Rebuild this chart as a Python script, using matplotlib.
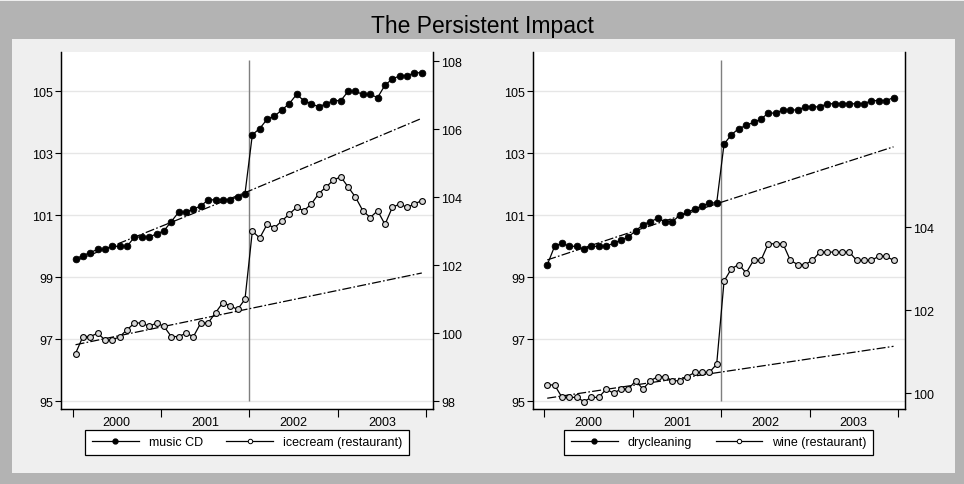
import numpy as np
import matplotlib
matplotlib.use('Agg')
import matplotlib.pyplot as plt
from matplotlib.patches import Rectangle
from matplotlib.lines import Line2D

plt.rcParams['font.family'] = ['Liberation Sans', 'DejaVu Sans']
plt.rcParams['lines.scale_dashes'] = False

# ---------------- data ----------------
years = [2000, 2001, 2002, 2003]
month_index = np.arange(48)          # Jan 2000 .. Dec 2003
break_year = 2002

music_cd = [99.6, 99.7, 99.8, 99.9, 99.9, 100.0, 100.0, 100.0, 100.3, 100.3, 100.3, 100.4,
            100.5, 100.8, 101.1, 101.1, 101.2, 101.3, 101.5, 101.5, 101.5, 101.5, 101.6, 101.7,
            103.6, 103.8, 104.1, 104.2, 104.4, 104.6, 104.9, 104.7, 104.6, 104.5, 104.6, 104.7,
            104.7, 105.0, 105.0, 104.9, 104.9, 104.8, 105.2, 105.4, 105.5, 105.5, 105.6, 105.6]
icecream = [99.4, 99.9, 99.9, 100.0, 99.8, 99.8, 99.9, 100.1, 100.3, 100.3, 100.2, 100.3,
            100.2, 99.9, 99.9, 100.0, 99.9, 100.3, 100.3, 100.6, 100.9, 100.8, 100.7, 101.0,
            103.0, 102.8, 103.2, 103.1, 103.3, 103.5, 103.7, 103.6, 103.8, 104.1, 104.3, 104.5,
            104.6, 104.3, 104.0, 103.6, 103.4, 103.6, 103.2, 103.7, 103.8, 103.7, 103.8, 103.9]
drycleaning = [99.4, 100.0, 100.1, 100.0, 100.0, 99.9, 100.0, 100.0, 100.0, 100.1, 100.2, 100.3,
               100.5, 100.7, 100.8, 100.9, 100.8, 100.8, 101.0, 101.1, 101.2, 101.3, 101.4, 101.4,
               103.3, 103.6, 103.8, 103.9, 104.0, 104.1, 104.3, 104.3, 104.4, 104.4, 104.4, 104.5,
               104.5, 104.5, 104.6, 104.6, 104.6, 104.6, 104.6, 104.6, 104.7, 104.7, 104.7, 104.8]
wine = [100.2, 100.2, 99.9, 99.9, 99.9, 99.8, 99.9, 99.9, 100.1, 100.0, 100.1, 100.1,
        100.3, 100.1, 100.3, 100.4, 100.4, 100.3, 100.3, 100.4, 100.5, 100.5, 100.5, 100.7,
        102.7, 103.0, 103.1, 102.9, 103.2, 103.2, 103.6, 103.6, 103.6, 103.2, 103.1, 103.1,
        103.2, 103.4, 103.4, 103.4, 103.4, 103.4, 103.2, 103.2, 103.2, 103.3, 103.3, 103.2]

# trend values at first month, at the break, at last month
music_trend = [99.53, 101.79, 104.13]
icecream_trend = [99.66, 100.72, 101.77]
dry_trend = [99.56, 101.42, 103.21]
wine_trend = [99.88, 100.51, 101.13]

left_ticks = [95, 97, 99, 101, 103, 105]
right_ticks_1 = [98, 100, 102, 104, 106, 108]
right_ticks_2 = [100, 102, 104]

# ---------------- figure ----------------
W, H = 964, 485
fig = plt.figure(figsize=(W / 100, H / 100), dpi=100)
fig.patch.set_facecolor('#B3B3B3')
fig.patches.append(Rectangle((12 / W, 1 - 474 / H), (955 - 12) / W, (474 - 40) / H,
                             transform=fig.transFigure, facecolor='#EFEFEF',
                             edgecolor='none', zorder=-10))
fig.patches.append(Rectangle((0, 1 - 1.5 / H), 1, 1.5 / H, transform=fig.transFigure,
                             facecolor='#EEEEEE', edgecolor='none', zorder=-10))
fig.text(0.5, 1 - 26 / H, 'The Persistent Impact', ha='center', va='center',
         fontsize=16.5, color='black')

x = 2000 + (month_index + 0.4) / 12
trend_x = [x[0], break_year, x[-1]]

trend_style = dict(color='black', lw=0.9, dashes=(6.5, 1.6, 1.2, 1.6), zorder=2)
filled = dict(color='black', lw=0.9, marker='o', ms=4.8, mfc='black', mec='black',
              mew=0.6, zorder=4)
hollow = dict(color='black', lw=0.9, marker='o', ms=4.2, mfc='#D9D9D9', mec='black',
              mew=0.8, zorder=4)


def make_panel(left_px, s1, s2, t1, t2, rlim, rticks, lab1, lab2):
    ax = fig.add_axes([left_px / W, 1 - 410 / H, 372.3 / W, (410 - 53) / H])
    ax.set_facecolor('white')
    ax.set_xlim(1999.869, 2004.08)
    ax.set_ylim(94.75, 106.27)
    ax.set_yticks(left_ticks)
    ax.yaxis.grid(True, color='#E6E6E6', lw=1.0)
    ax.set_axisbelow(True)
    ax.set_xticks([2000, 2001, 2002, 2003, 2004])
    ax.set_xticklabels([])
    ax.set_xticks([y + 0.5 for y in years], minor=True)
    ax.set_xticklabels([str(y) for y in years], minor=True)
    ax.tick_params(axis='x', which='major', length=5.5, width=0.8, direction='out')
    ax.tick_params(axis='x', which='minor', length=0, pad=5, labelsize=9)
    ax.tick_params(axis='y', length=4, width=0.8, pad=1.5, labelsize=9)
    ax.spines['top'].set_visible(False)
    for s in ['left', 'right', 'bottom']:
        ax.spines[s].set_linewidth(0.9)
        ax.spines[s].set_color('black')
    ax.vlines(break_year, 95, 106, color='#7F7F7F', lw=1.0, zorder=1)
    ax.plot(trend_x, t1, **trend_style)
    ax.plot(x, s1, **filled)

    ax2 = ax.twinx()
    ax2.set_ylim(*rlim)
    ax2.set_yticks(rticks)
    ax2.tick_params(axis='y', length=4, width=0.8, pad=1.5, labelsize=9)
    ax2.spines['top'].set_visible(False)
    for s in ['left', 'right', 'bottom']:
        ax2.spines[s].set_linewidth(0.9)
        ax2.spines[s].set_color('black')
    ax2.plot(trend_x, t2, **trend_style)
    ax2.plot(x, s2, **hollow)

    handles = [Line2D([], [], color='black', lw=0.9, marker='o', ms=3.5, mfc='black', mec='black'),
               Line2D([], [], color='black', lw=0.9, marker='o', ms=3.2, mfc='white', mec='black', mew=0.7)]
    cx = (left_px + 372.3 / 2) / W
    leg = fig.legend(handles, [lab1, lab2], loc='center', bbox_to_anchor=(cx, 1 - 443.5 / H),
                     ncol=2, numpoints=1, fontsize=9, frameon=True, fancybox=False,
                     edgecolor='black', framealpha=1, handlelength=3.7, handletextpad=0.8,
                     columnspacing=1.9, borderpad=0.55)
    leg.get_frame().set_linewidth(0.9)
    return ax, ax2


make_panel(61, music_cd, icecream, music_trend, icecream_trend,
           (97.77, 108.27), right_ticks_1, 'music CD', 'icecream (restaurant)')
make_panel(532.7, drycleaning, wine, dry_trend, wine_trend,
           (99.62, 108.22), right_ticks_2, 'drycleaning', 'wine (restaurant)')

fig.savefig('out.png', dpi=100, facecolor=fig.get_facecolor())
